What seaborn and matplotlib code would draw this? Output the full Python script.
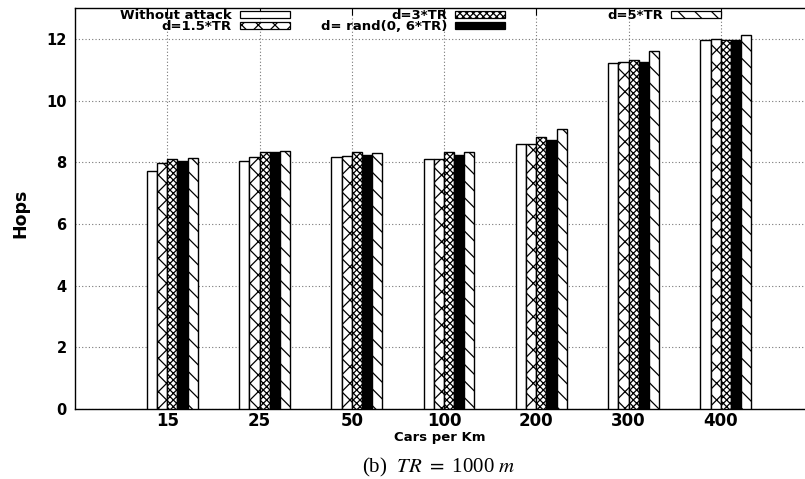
import numpy as np
import pandas as pd
import matplotlib
matplotlib.use('Agg')
import matplotlib.pyplot as plt
import seaborn as sns
from matplotlib.patches import Patch

# 数据
cars = ['15', '25', '50', '100', '200', '300', '400']
series = ['Without attack', 'd=1.5*TR', 'd=3*TR', 'd= rand(0, 6*TR)', 'd=5*TR']
without_attack = [7.72, 8.05, 8.16, 8.10, 8.58, 11.23, 11.96]
d_15 = [7.96, 8.16, 8.20, 8.09, 8.60, 11.24, 11.98]
d_3 = [8.09, 8.32, 8.32, 8.32, 8.81, 11.30, 11.96]
d_rand = [8.05, 8.32, 8.23, 8.23, 8.72, 11.26, 11.96]
d_5 = [8.13, 8.35, 8.31, 8.34, 9.07, 11.60, 12.12]

colors = ['white', 'white', 'white', 'black', 'white']
hatches = ['', 'xx', 'xxxxx', '', '\\\\']

df = pd.DataFrame({
    'cars': cars * 5,
    'series': sum([[s] * len(cars) for s in series], []),
    'hops': without_attack + d_15 + d_3 + d_rand + d_5,
})

sns.set_style('white')
plt.rcParams['font.family'] = ['DejaVu Sans']
plt.rcParams['text.color'] = 'black'
plt.rcParams['xtick.color'] = 'black'
plt.rcParams['ytick.color'] = 'black'
plt.rcParams['hatch.linewidth'] = 0.9
plt.rcParams['mathtext.fontset'] = 'stix'

fig = plt.figure(figsize=(8.05, 4.79), dpi=100)
ax = fig.add_axes([75 / 805, 1 - 409 / 479, 738 / 805, 401 / 479])

group_w = 0.55
bar_w = group_w / len(series)
sns.barplot(data=df, x='cars', y='hops', hue='series', order=cars, hue_order=series,
            palette=colors, width=group_w, gap=0, edgecolor='black', linewidth=1.0,
            saturation=1, ax=ax, legend=False, zorder=3)

# 设置每个系列的填充图案
for cont, h in zip(ax.containers, hatches):
    for bar in cont:
        bar.set_hatch(h)

# gnuplot 风格：刻度在第2、3根柱子之间
tick_pos = np.arange(len(cars)) - bar_w / 2
ax.set_xticks(tick_pos, cars)
ax.set_xlim(tick_pos[0] - 1, tick_pos[0] + 7)
ax.set_ylim(0, 13)
ax.set_yticks(range(0, 13, 2))

ax.grid(True, linestyle=(0, (1, 2)), color='#777777', linewidth=0.8)
ax.set_axisbelow(True)
ax.tick_params(axis='x', direction='in', top=True, length=5, labelsize=12, pad=2)
ax.tick_params(axis='y', direction='in', length=5, labelsize=10.5, pad=6)
for lab in ax.get_xticklabels() + ax.get_yticklabels():
    lab.set_fontweight('bold')
for sp in ['left', 'top', 'bottom']:
    ax.spines[sp].set_color('black')
    ax.spines[sp].set_linewidth(1.0)
ax.spines['right'].set_visible(False)

ax.set_xlabel('')
ax.set_ylabel('')
fig.text(20 / 805, 1 - 213 / 479, 'Hops', rotation=90, ha='center', va='center',
         fontsize=12.5, fontweight='bold')
fig.text(440 / 805, 1 - 437 / 479, 'Cars per Km', ha='center', va='center',
         fontsize=9.5, fontweight='bold')
fig.text(439 / 805, 1 - 467 / 479, r'(b)  $TR$ $=$ 1000 $m$', ha='center', va='center',
         fontsize=15, family='Liberation Serif')

# 图例：三列，每列右对齐
handles = [Patch(facecolor=c, edgecolor='black', hatch=h, linewidth=0.9)
           for c, h in zip(colors, hatches)]
col_right = [290, 505, 721]
col_items = [[0, 1], [2, 3], [4]]
for xr, idx in zip(col_right, col_items):
    leg = fig.legend([handles[i] for i in idx], [series[i] for i in idx],
                     loc='upper right', bbox_to_anchor=(xr / 805, 1 - 9 / 479),
                     frameon=False, markerfirst=False, borderpad=0, borderaxespad=0,
                     handlelength=3.8, handleheight=0.45, handletextpad=0.6,
                     labelspacing=-0.12, prop={'weight': 'bold', 'size': 9.5})

plt.savefig('out.png', dpi=100)
